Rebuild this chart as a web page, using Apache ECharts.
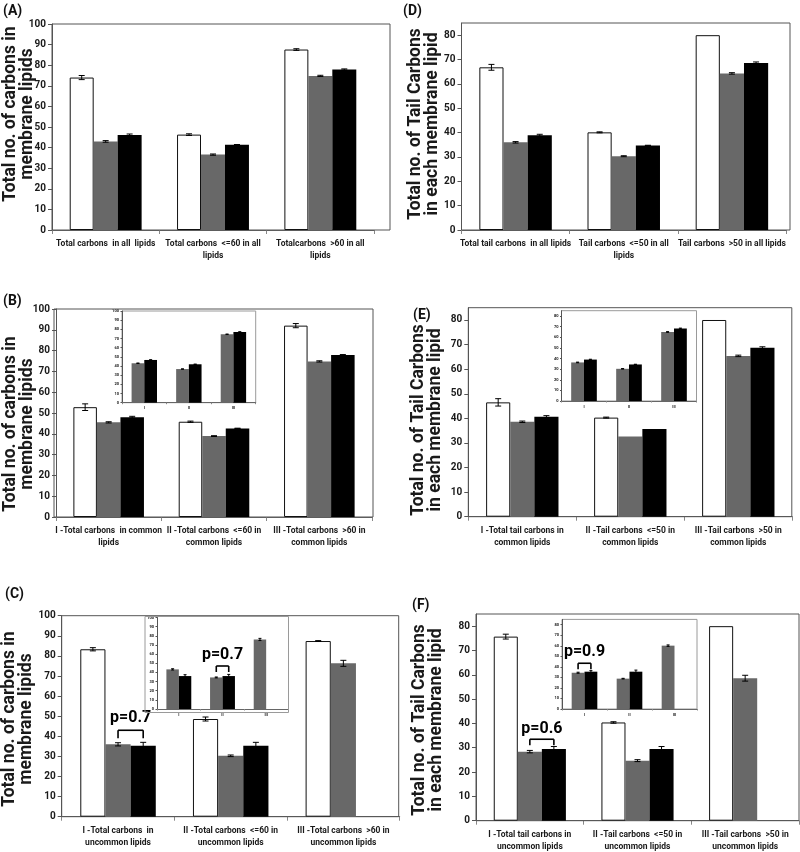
<!DOCTYPE html>
<html>
<head>
<meta charset="utf-8">
<script src="https://cdn.jsdelivr.net/npm/echarts@6/dist/echarts.min.js"></script>
<style>
html, body { margin: 0; padding: 0; background: #fff; }
#chart { width: 800px; height: 852px; }
</style>
</head>
<body>
<div id="chart"></div>
<script>
// ---- data ----
// (A) all lipids
const catsA = ['Total carbons  in all  lipids', 'Total carbons  <=60 in all\nlipids', 'Totalcarbons  >60 in all\nlipids'];
const whiteA = [74, 46.3, 87.6];
const whiteErrA = [1.0, 0.4, 0.4];
const grayA = [43, 36.6, 74.8];
const grayErrA = [0.4, 0.3, 0.3];
const blackA = [46.1, 41.4, 77.9];
const blackErrA = [0.5, 0.1, 0.3];

// (D) tail carbons, all lipids
const catsD = ['Total tail carbons  in all lipids', 'Tail carbons  <=50 in all\nlipids', 'Tail carbons  >50 in all lipids'];
const whiteD = [66.8, 40.1, 80];
const whiteErrD = [1.2, 0.2, 0];
const grayD = [36, 30.3, 64.3];
const grayErrD = [0.3, 0.2, 0.3];
const blackD = [38.9, 34.7, 68.6];
const blackErrD = [0.4, 0.1, 0.4];

// (B) common lipids
const catsB = ['I -Total carbons  in common\nlipids', 'II -Total carbons  <=60 in\ncommon lipids', 'III -Total carbons  >60 in\ncommon lipids'];
const whiteB = [52.8, 45.8, 92];
const whiteErrB = [1.6, 0.3, 1.0];
const grayB = [45.5, 38.9, 74.8];
const grayErrB = [0.3, 0.2, 0.3];
const blackB = [48, 42.6, 77.9];
const blackErrB = [0.4, 0.1, 0.2];
const insetGrayB = [43, 36.7, 74.6];
const insetGrayErrB = [0.3, 0.2, 0.3];
const insetBlackB = [46.6, 41.9, 77.1];
const insetBlackErrB = [0.3, 0.2, 0.3];

// (E) tail carbons, common lipids
const catsE = ['I -Total tail carbons in\ncommon lipids', 'II -Tail carbons  <=50 in\ncommon lipids', 'III -Tail carbons  >50 in\ncommon lipids'];
const whiteE = [46.5, 40.3, 80];
const whiteErrE = [1.5, 0.2, 0];
const grayE = [38.6, 32.6, 65.4];
const grayErrE = [0.3, 0, 0.3];
const blackE = [40.7, 35.7, 68.7];
const blackErrE = [0.4, 0, 0.4];
const insetGrayE = [36.3, 30.3, 65];
const insetGrayErrE = [0.3, 0.2, 0.3];
const insetBlackE = [39, 34.4, 68.2];
const insetBlackErrE = [0.3, 0.2, 0.4];

// (C) uncommon lipids
const catsC = ['I -Total carbons  in\nuncommon lipids', 'II -Total carbons  <=60 in\nuncommon lipids', 'III -Total carbons  >60 in\nuncommon lipids'];
const whiteC = [83.3, 48.6, 87.4];
const whiteErrC = [0.8, 1.0, 0.2];
const grayC = [36, 30.3, 76.3];
const grayErrC = [0.8, 0.4, 1.5];
const blackC = [35.3, 35.3, null];
const blackErrC = [1.7, 1.7, null];
const insetGrayC = [43.3, 34.5, 76];
const insetGrayErrC = [0.7, 0.5, 1.2];
const insetBlackC = [36, 36, null];
const insetBlackErrC = [1.5, 1.8, null];
const pMainC = [0, 43, 'p=0.7'];
const pInsetC = [1, 47, 'p=0.7'];

// (F) tail carbons, uncommon lipids
const catsF = ['I -Total tail carbons in\nuncommon lipids', 'II -Tail carbons  <=50 in\nuncommon lipids', 'III -Tail carbons  >50 in\nuncommon lipids'];
const whiteF = [75.7, 40.4, 80];
const whiteErrF = [1.0, 0.3, 0];
const grayF = [28.4, 24.7, 58.6];
const grayErrF = [0.5, 0.4, 1.2];
const blackF = [29.5, 29.5, null];
const blackErrF = [1.0, 1.0, null];
const insetGrayF = [34.4, 28.8, 60.1];
const insetGrayErrF = [0.5, 0.3, 0.7];
const insetBlackF = [35.4, 35.4, null];
const insetBlackErrF = [1.0, 1.5, null];
const pMainF = [0, 33.5, 'p=0.6'];
const pInsetF = [0, 43.4, 'p=0.9'];

const insetCats = ['I', 'II', 'III'];

// ---- styling ----
const FONT = 'Roboto';
const WHITE = { color: '#fff', stroke: '#111' };
const GRAY = { color: '#686868' };
const BLACK = { color: '#000' };

const chart = echarts.init(document.getElementById('chart'));
const option = {
  animation: false,
  backgroundColor: '#fff',
  grid: [], xAxis: [], yAxis: [], series: [], graphic: []
};

function errorBarSeries(gi, values, errors, slot, n, gap, cap) {
  const data = [];
  values.forEach((v, i) => {
    if (v != null && errors[i] > 0) data.push([i, v, errors[i]]);
  });
  return {
    type: 'custom', xAxisIndex: gi, yAxisIndex: gi, data, z: 4, silent: true,
    renderItem(params, api) {
      const cat = api.value(0), v = api.value(1), e = api.value(2);
      const bw = api.size([1, 0])[0] * (1 - gap) / n;
      const c = api.coord([cat, v]);
      const x = c[0] - n * bw / 2 + (slot + 0.5) * bw;
      const yt = api.coord([cat, v + e])[1];
      const yb = api.coord([cat, v - e])[1];
      const st = { stroke: '#000', lineWidth: 1 };
      return {
        type: 'group', children: [
          { type: 'line', shape: { x1: x, y1: yt, x2: x, y2: yb }, style: st },
          { type: 'line', shape: { x1: x - cap, y1: yt, x2: x + cap, y2: yt }, style: st },
          { type: 'line', shape: { x1: x - cap, y1: yb, x2: x + cap, y2: yb }, style: st }
        ]
      };
    }
  };
}

function pValueSeries(gi, p, n, gap, slots, leg, lift, fontSize) {
  return {
    type: 'custom', xAxisIndex: gi, yAxisIndex: gi, data: [[p[0], p[1]]], z: 5, silent: true,
    renderItem(params, api) {
      const bw = api.size([1, 0])[0] * (1 - gap) / n;
      const c = api.coord([api.value(0), api.value(1)]);
      const xa = c[0] - n * bw / 2 + (slots[0] + 0.5) * bw;
      const xb = c[0] - n * bw / 2 + (slots[1] + 0.5) * bw;
      const y = c[1];
      const st = { stroke: '#000', lineWidth: 1.6 };
      return {
        type: 'group', children: [
          { type: 'line', shape: { x1: xa, y1: y, x2: xb, y2: y }, style: st },
          { type: 'line', shape: { x1: xa, y1: y, x2: xa, y2: y + leg }, style: st },
          { type: 'line', shape: { x1: xb, y1: y, x2: xb, y2: y + leg }, style: st },
          { type: 'text', x: (xa + xb) / 2, y: y - lift,
            style: { text: p[2], font: 'bold ' + fontSize + 'px ' + FONT, fill: '#000', align: 'center', verticalAlign: 'middle' } }
        ]
      };
    }
  };
}

function addChart(p) {
  const gi = option.grid.length;
  const b = p.box;
  option.grid.push({
    left: b[0], top: b[1], width: b[2], height: b[3],
    show: !!p.border, borderColor: p.border || 'transparent', borderWidth: 1,
    backgroundColor: p.border ? '#fff' : 'transparent',
    containLabel: false, outerBoundsMode: 'none'
  });
  option.xAxis.push({
    gridIndex: gi, type: 'category', data: p.cats,
    axisLine: { lineStyle: { color: '#666', width: 1 } },
    axisTick: { show: true, length: p.tick, lineStyle: { color: '#888' } },
    axisLabel: { interval: 0, margin: p.xMargin, fontFamily: FONT, fontWeight: 'bold',
      fontSize: p.xFont, lineHeight: p.xLine, color: '#1a1a1a' }
  });
  option.yAxis.push({
    gridIndex: gi, type: 'value', min: 0, max: p.max, interval: 10,
    splitLine: { show: false },
    axisLine: { show: true, lineStyle: { color: '#555' } },
    axisTick: { show: true, length: p.tick, lineStyle: { color: '#555' } },
    axisLabel: { showMaxLabel: p.max % 10 === 0, margin: p.yMargin, fontFamily: FONT, fontWeight: 'bold',
      fontSize: p.yFont, color: '#1a1a1a' }
  });
  const n = p.bars.length;
  p.bars.forEach(s => {
    option.series.push({
      type: 'bar', xAxisIndex: gi, yAxisIndex: gi, data: s.values, silent: true,
      barGap: '0%', barCategoryGap: Math.round(p.gap * 100) + '%', z: 3,
      itemStyle: { color: s.style.color, borderColor: s.style.stroke || s.style.color,
        borderWidth: s.style.stroke ? 1 : 0 }
    });
  });
  p.bars.forEach((s, k) => {
    option.series.push(errorBarSeries(gi, s.values, s.errors, k, n, p.gap, p.cap));
  });
  (p.pvals || []).forEach(pv => {
    option.series.push(pValueSeries(gi, pv.p, n, p.gap, pv.slots, pv.leg, pv.lift, pv.font));
  });
}

const mainStyle = { tick: 4, xMargin: 8, xFont: 8.5, xLine: 12, yMargin: 6, yFont: 10, gap: 0.33, cap: 3 };
const insetStyle = { tick: 1.5, xMargin: 3, xFont: 4, xLine: 5, yMargin: 3, yFont: 4, gap: 0.43, cap: 1.5, border: '#9a9a9a' };

function bars3(w, we, g, ge, k, ke) {
  return [
    { values: w, errors: we, style: WHITE },
    { values: g, errors: ge, style: GRAY },
    { values: k, errors: ke, style: BLACK }
  ];
}
function bars2(g, ge, k, ke) {
  return [
    { values: g, errors: ge, style: GRAY },
    { values: k, errors: ke, style: BLACK }
  ];
}

// main panels
addChart(Object.assign({}, mainStyle, { box: [52, 24, 322, 206], max: 100, cats: catsA,
  bars: bars3(whiteA, whiteErrA, grayA, grayErrA, blackA, blackErrA) }));
addChart(Object.assign({}, mainStyle, { box: [461.5, 23, 324.5, 207], max: 85, cats: catsD,
  bars: bars3(whiteD, whiteErrD, grayD, grayErrD, blackD, blackErrD) }));
addChart(Object.assign({}, mainStyle, { box: [56, 309, 316, 208], max: 100, cats: catsB,
  bars: bars3(whiteB, whiteErrB, grayB, grayErrB, blackB, blackErrB) }));
addChart(Object.assign({}, mainStyle, { box: [468.3, 307.7, 324, 209], max: 85, cats: catsE,
  bars: bars3(whiteE, whiteErrE, grayE, grayErrE, blackE, blackErrE) }));
addChart(Object.assign({}, mainStyle, { box: [61.7, 615.7, 338, 201], max: 100, cats: catsC,
  bars: bars3(whiteC, whiteErrC, grayC, grayErrC, blackC, blackErrC),
  pvals: [{ p: pMainC, slots: [1, 2], leg: 8, lift: 12, font: 16 }] }));
addChart(Object.assign({}, mainStyle, { box: [476, 614, 323, 206.7], max: 85, cats: catsF,
  bars: bars3(whiteF, whiteErrF, grayF, grayErrF, blackF, blackErrF),
  pvals: [{ p: pMainF, slots: [1, 2], leg: 6, lift: 10, font: 16 }] }));

// insets
addChart(Object.assign({}, insetStyle, { box: [122, 311, 133.7, 91.7], max: 100, cats: insetCats,
  bars: bars2(insetGrayB, insetGrayErrB, insetBlackB, insetBlackErrB) }));
addChart(Object.assign({}, insetStyle, { box: [561.5, 310.7, 135, 90.3], max: 85, cats: insetCats,
  bars: bars2(insetGrayE, insetGrayErrE, insetBlackE, insetBlackErrE) }));
addChart(Object.assign({}, insetStyle, { box: [157, 617.5, 131, 91.5], max: 100, cats: insetCats, border: null,
  bars: bars2(insetGrayC, insetGrayErrC, insetBlackC, insetBlackErrC),
  pvals: [{ p: pInsetC, slots: [0, 1], leg: 6, lift: 11, font: 16 }] }));
addChart(Object.assign({}, insetStyle, { box: [562, 619.4, 135, 89.6], max: 85, cats: insetCats,
  bars: bars2(insetGrayF, insetGrayErrF, insetBlackF, insetBlackErrF),
  pvals: [{ p: pInsetF, slots: [0, 1], leg: 6, lift: 11.6, font: 16 }] }));

// frames, panel letters and axis titles
const frames = [[52, 24, 338, 206], [461.5, 23, 328.5, 207], [54, 309, 319, 208],
  [468.3, 307.7, 323.5, 209], [61.7, 615.7, 337, 201], [476, 614, 323, 206.7]];
frames.forEach(f => option.graphic.push({
  type: 'rect', z: 1, shape: { x: f[0], y: f[1], width: f[2], height: f[3] },
  style: { fill: null, stroke: '#555', lineWidth: 1 }, silent: true
}));
option.graphic.push({
  type: 'rect', z: 100, shape: { x: 145, y: 616.5, width: 143.5, height: 96 },
  style: { fill: null, stroke: '#9a9a9a', lineWidth: 1 }, silent: true
});

const letters = [['(A)', 3, 4], ['(D)', 403, 4], ['(B)', 3, 294], ['(E)', 413, 308], ['(C)', 5, 587], ['(F)', 412, 598]];
letters.forEach(l => option.graphic.push({
  type: 'text', x: l[1], y: l[2], z: 100,
  style: { text: l[0], font: 'bold 14px ' + FONT, fill: '#111', align: 'left', verticalAlign: 'top' }
}));

const carbonTitle = 'Total no. of carbons in\nmembrane lipids';
const tailTitle = 'Total no. of Tail Carbons\nin each membrane lipid';
const titles = [[carbonTitle, 19, 114], [tailTitle, 424, 124], [carbonTitle, 19, 424],
  [tailTitle, 427, 420], [carbonTitle, 18, 719], [tailTitle, 428, 720]];
titles.forEach(t => option.graphic.push({
  type: 'text', x: t[1], y: t[2], rotation: Math.PI / 2, z: 100,
  style: { text: t[0], font: 'bold 17.5px ' + FONT, fill: '#1a1a1a', align: 'center',
    verticalAlign: 'middle', lineHeight: 17 }
}));

chart.setOption(option);
</script>
</body>
</html>
